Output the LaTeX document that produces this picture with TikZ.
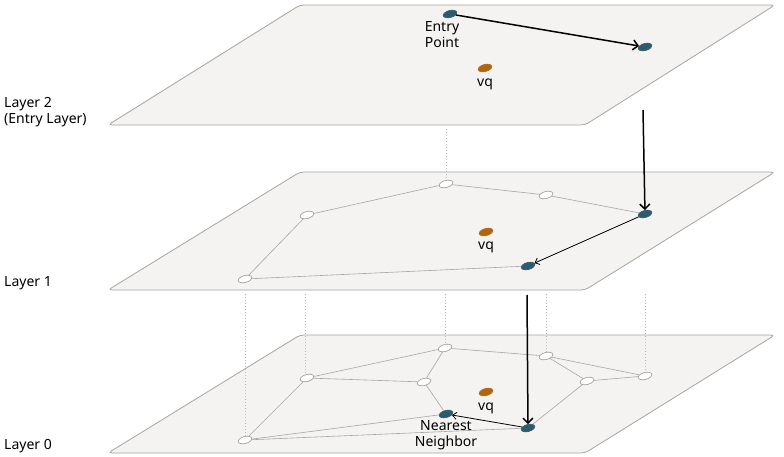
\documentclass[tikz,border=0pt]{standalone}
\usepackage{fontspec}
\setmainfont{Noto Sans}
\usetikzlibrary{shapes.geometric,arrows.meta}
\definecolor{planefill}{HTML}{F4F3F1}
\definecolor{planeline}{HTML}{A8A5A0}
\definecolor{hit}{HTML}{2F5A6B}
\definecolor{query}{HTML}{B0650F}
\tikzset{
    plane/.style={draw=planeline, fill=planefill, rounded corners=4pt, line width=0.8pt},
    vertex/.style={ellipse, draw=gray!80, fill=white, line width=0.6pt, minimum width=14pt, minimum height=7pt, inner sep=0pt, rotate=15},
    visited/.style={vertex, draw=hit, fill=hit},
    vq/.style={vertex, draw=query, fill=query},
    edge/.style={draw=gray!70, line width=0.6pt},
    drop/.style={draw=gray!55, dotted, line width=1pt},
    hop/.style={black, line width=1.5pt, -{Straight Barb[length=5pt,width=10pt]}},
    smallhop/.style={black, line width=0.8pt, -{Straight Barb[length=4pt,width=7pt]}},
    lbl/.style={font=\fontsize{14}{16}\selectfont, align=left, inner sep=1pt}
}
\begin{document}
\begin{tikzpicture}[x=1pt, y=-1pt]
    \useasboundingbox (0,0) rectangle (784,457);

    % Layer 0
    \draw[plane] (300,335) -- (775,335) -- (585,453) -- (108,453) -- cycle;
    % dotted drops from layer 1 to layer 0
    \draw[drop] (245,294) -- (245,438);
    \draw[drop] (305,294) -- (305,376);
    \draw[drop] (445,294) -- (445,346);
    \draw[drop] (546,294) -- (546,354);
    \draw[drop] (645,294) -- (645,374);

    % Layer 1
    \draw[plane] (300,172) -- (775,172) -- (585,290) -- (108,290) -- cycle;
    \draw[drop] (446,129) -- (446,182);

    % Layer 2
    \draw[plane] (300,5) -- (775,5) -- (585,125) -- (108,125) -- cycle;

    % layer labels
    \node[lbl, anchor=west] (l2) at (3,112) {Layer 2\\(Entry Layer)};
    \node[lbl, anchor=west] (l1) at (3,283) {Layer 1};
    \node[lbl, anchor=west] (l0) at (3,446) {Layer 0};

    % layer 2 nodes
    \node[visited] (entry) at (450,14) {};
    \node[visited] (c2) at (645,47) {};
    \node[vq] (q2) at (485,68) {};
    \node[lbl, align=center, below=0pt] (entrylbl) at (442,20) {Entry\\Point};
    \node[lbl] (q2lbl) at (485,84) {vq};
    \draw[hop] (entry) -- (c2);

    % layer 1 nodes
    \node[vertex] (a1) at (446,184) {};
    \node[vertex] (b1) at (546,195) {};
    \node[visited] (c1) at (645,214) {};
    \node[vertex] (d1) at (307,215) {};
    \node[visited] (e1) at (528,266) {};
    \node[vertex] (f1) at (245,279) {};
    \node[vq] (q1) at (486,232) {};
    \node[lbl] (q1lbl) at (486,247) {vq};
    \draw[edge] (a1) -- (b1) -- (c1);
    \draw[edge] (a1) -- (d1) -- (f1) -- (e1);
    \draw[smallhop] (c1) -- (e1);

    % layer 0 nodes
    \node[vertex] (a0) at (445,348) {};
    \node[vertex] (b0) at (546,356) {};
    \node[vertex] (c0) at (645,376) {};
    \node[vertex] (d0) at (307,378) {};
    \node[vertex] (g0) at (424,382) {};
    \node[vertex] (h0) at (587,381) {};
    \node[visited] (n0) at (446,414) {};
    \node[visited] (e0) at (528,428) {};
    \node[vertex] (f0) at (245,440) {};
    \node[vq] (q0) at (486,392) {};
    \node[lbl] (q0lbl) at (486,408) {vq};
    \node[lbl, align=center, below=0pt] (nnlbl) at (446,419) {Nearest\\Neighbor};
    \draw[edge] (a0) -- (b0) -- (c0) -- (h0) -- (b0);
    \draw[edge] (a0) -- (d0) -- (g0) -- (a0);
    \draw[edge] (g0) -- (n0);
    \draw[edge] (d0) -- (f0) -- (n0);
    \draw[edge] (f0) -- (e0) -- (h0);
    \draw[smallhop] (e0) -- (n0);

    % descents between layers
    \draw[hop] (643,110) -- (c1);
    \draw[hop] (527,295) -- (e0);
\end{tikzpicture}
\end{document}
